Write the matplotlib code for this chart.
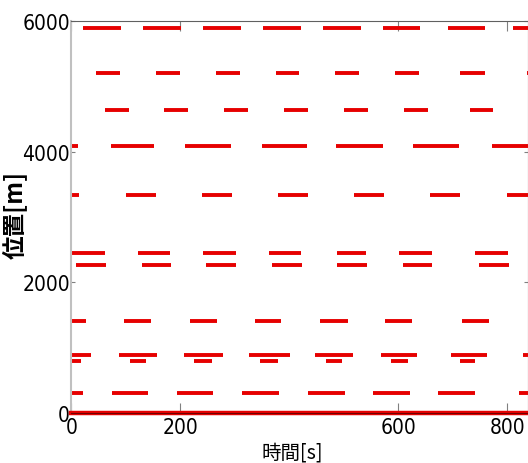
import matplotlib
matplotlib.use("Agg")
import matplotlib.pyplot as plt
from matplotlib import font_manager

# signal positions [m] and red-light intervals [s]
positions = [5890, 5200, 4630, 4080, 3340, 2450, 2270, 1400, 880, 790, 300]
red_starts = [
    [22, 132, 242, 352, 462, 572, 692, 811],
    [45, 155, 265, 375, 484, 594, 714, 836],
    [62, 171, 281, 391, 500, 610, 731],
    [0, 73, 209, 350, 486, 627, 772],
    [0, 100, 240, 379, 519, 659, 799],
    [0, 123, 242, 363, 487, 602, 741],
    [9, 129, 248, 368, 488, 608, 748],
    [0, 97, 217, 337, 457, 576, 716],
    [0, 88, 207, 327, 447, 568, 697, 829],
    [0, 108, 226, 346, 467, 586, 714],
    [0, 75, 194, 314, 434, 553, 673, 821],
]
red_ends = [
    [91, 201, 311, 421, 531, 640, 760, 880],
    [89, 199, 309, 418, 528, 638, 760, 880],
    [105, 214, 324, 435, 544, 654, 774],
    [13, 152, 293, 432, 572, 712, 858],
    [14, 155, 295, 434, 574, 714, 855],
    [62, 181, 302, 421, 541, 661, 801],
    [63, 183, 303, 423, 543, 662, 803],
    [27, 146, 267, 385, 507, 626, 767],
    [36, 158, 278, 401, 517, 635, 762, 899],
    [17, 138, 259, 379, 496, 618, 741],
    [21, 141, 260, 381, 502, 621, 741, 888],
]
x_ticks = [0, 200, 600, 800]
y_ticks = [0, 2000, 4000, 6000]

names = {f.name for f in font_manager.fontManager.ttflist}
num_font = "Liberation Sans Narrow" if "Liberation Sans Narrow" in names else "DejaVu Sans"
jp_font = ["Noto Sans CJK JP", "DejaVu Sans"]

fig = plt.figure(figsize=(5.28, 4.64), dpi=100)
ax = fig.add_axes([0.135, 0.1078, 0.865, 0.845])

red = "#e60000"
for y, starts, ends in zip(positions, red_starts, red_ends):
    ax.hlines([y] * len(starts), starts, ends, colors=red, linewidth=2.8)
ax.plot([0, 838], [0, 0], color=red, linewidth=3.2, clip_on=False, zorder=3)

ax.set_xlim(0, 838)
ax.set_ylim(0, 6000)
ax.set_xticks(x_ticks)
ax.set_yticks(y_ticks)
ax.set_xticklabels([str(v) for v in x_ticks], fontsize=15, family=num_font,
                   fontstretch="condensed")
ax.set_yticklabels([str(v) for v in y_ticks], fontsize=15, family=num_font,
                   fontstretch="condensed")
ax.tick_params(axis="x", direction="in", length=7, color="#808080",
               top=True, pad=3)
ax.tick_params(axis="y", direction="in", length=3, color="#808080",
               right=True, pad=1)

ax.spines["left"].set_color("#c0c0c0")
ax.spines["left"].set_linewidth(1.5)
ax.spines["top"].set_color("#606060")
ax.spines["right"].set_color("#606060")
ax.spines["bottom"].set_color("#700000")
ax.spines["bottom"].set_zorder(4)

ax.set_xlabel("時間[s]", family=jp_font, fontsize=14)
ax.xaxis.set_label_coords(0.483, -0.072)
ax.set_ylabel("位置[m]", family=jp_font, fontsize=17, fontweight="bold")
ax.yaxis.set_label_coords(-0.098, 0.508)

fig.savefig("out.png", dpi=100)
